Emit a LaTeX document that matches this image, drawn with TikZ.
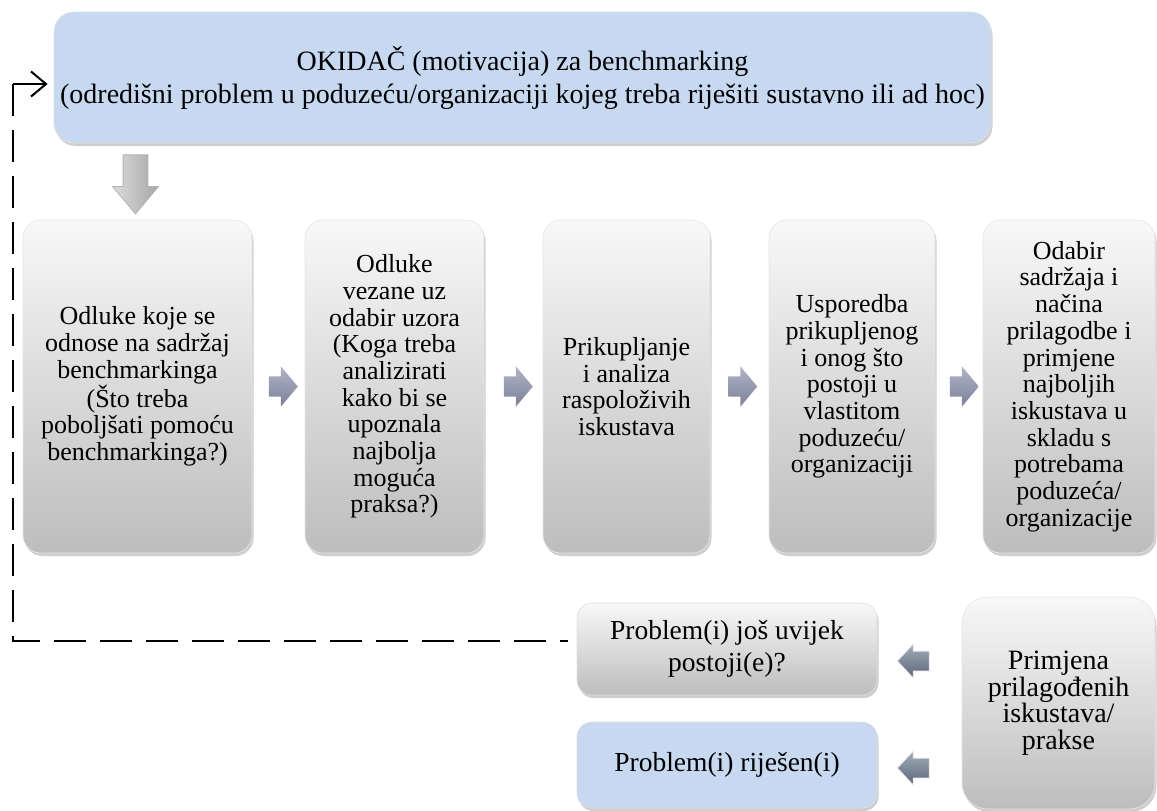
\documentclass[tikz,border=0pt]{standalone}
\usepackage{fontspec}
\setmainfont{Liberation Serif}
\usetikzlibrary{shapes.arrows,shadows,arrows.meta}
\definecolor{boxblue}{HTML}{C6D9F1}
\definecolor{gtop}{HTML}{F8F8F8}
\definecolor{gbot}{HTML}{BDBDBD}
\definecolor{atop}{HTML}{B0B5C8}
\definecolor{abot}{HTML}{7A8098}
\definecolor{btop}{HTML}{A3ADBB}
\definecolor{bbot}{HTML}{5A6677}
\definecolor{dtop}{HTML}{DCDCDC}
\definecolor{dbot}{HTML}{A6A6A6}
\begin{document}
\begin{tikzpicture}[x=1pt,y=1pt,
  shadowed/.style={drop shadow={shadow xshift=1.5pt,shadow yshift=-3pt,opacity=0.35,fill=black!55}},
  topbox/.style={rounded corners=20pt,fill=boxblue,draw=black!12,line width=0.8pt,shadowed,
    align=center,inner sep=0pt,font=\fontsize{28}{33}\selectfont},
  rowbox/.style={rounded corners=18pt,top color=gtop,bottom color=gbot,draw=black!10,line width=0.6pt,
    shadowed,align=center,inner sep=0pt,minimum height=333pt,font=\fontsize{26}{26.7}\selectfont},
  smallbox/.style={rounded corners=15pt,draw=black!12,line width=0.6pt,shadowed,align=center,
    inner sep=0pt,minimum width=300pt,font=\fontsize{27.5}{32}\selectfont},
  rarrow/.style={single arrow,single arrow tip angle=100,single arrow head extend=10pt,
    minimum height=29pt,inner xsep=0pt,inner ysep=10pt,top color=atop,bottom color=abot,draw=none},
  larrow/.style={single arrow,shape border rotate=180,single arrow tip angle=94,single arrow head extend=7pt,
    minimum height=32pt,inner xsep=0pt,inner ysep=9.5pt,top color=btop,bottom color=bbot,draw=black!8,line width=0.8pt},
  darrow/.style={single arrow,rotate=-90,single arrow tip angle=80,single arrow head extend=10.5pt,
    minimum height=59pt,inner xsep=0pt,inner ysep=12pt,left color=dtop,right color=dbot,draw=black!30,line width=0.8pt},
  fbline/.style={line width=2pt,dash pattern=on 32pt off 14pt}
]
\useasboundingbox (0,0) rectangle (1157,-811);

\node[topbox,minimum width=937pt,minimum height=131pt] (top) at (522.5,-77.5)
  {OKIDAČ (motivacija) za benchmarking\\(odredišni problem u poduzeću/organizaciji kojeg treba riješiti sustavno ili ad hoc)};

\node[darrow] (down) at (135.5,-177) {};

\node[rowbox,minimum width=229pt] (b1) at (137.5,-386.5)
  {Odluke koje se\\odnose na sadržaj\\benchmarkinga\\(Što treba\\poboljšati pomoću\\benchmarkinga?)};
\node[rowbox,minimum width=179pt] (b2) at (394.5,-386.5)
  {Odluke\\vezane uz\\odabir uzora\\(Koga treba\\analizirati\\kako bi se\\upoznala\\najbolja\\moguća\\praksa?)};
\node[rowbox,minimum width=167pt] (b3) at (626.5,-386.5)
  {Prikupljanje\\i analiza\\raspoloživih\\iskustava};
\node[rowbox,minimum width=166pt] (b4) at (852,-386.5)
  {Usporedba\\prikupljenog\\i onog što\\postoji u\\vlastitom\\poduzeću/\\organizaciji};
\node[rowbox,minimum width=172pt] (b5) at (1069,-386.5)
  {Odabir\\sadržaja i\\načina\\prilagodbe i\\primjene\\najboljih\\iskustava u\\skladu s\\potrebama\\poduzeća/\\organizacije};

\node[rarrow] (a1) at (279,-386.5) {};
\node[rarrow] (a2) at (514,-386.5) {};
\node[rarrow] (a3) at (738.5,-386.5) {};
\node[rarrow] (a4) at (960,-386.5) {};

\node[smallbox,minimum height=92pt,top color=gtop,bottom color=gbot] (p1) at (727,-649)
  {Problem(i) još uvijek\\postoji(e)?};
\node[smallbox,minimum height=86pt,fill=boxblue] (p2) at (727,-765)
  {Problem(i) riješen(i)};
\node[rowbox,rounded corners=26pt,minimum width=193pt,minimum height=212pt,
  font=\fontsize{28}{26.5}\selectfont] (ap) at (1058.5,-703)
  {Primjena\\prilagođenih\\iskustava/\\prakse};

\node[larrow] (l1) at (918,-661) {};
\node[larrow] (l2) at (918,-768) {};

\coordinate (fbstart) at (568,-641);
\coordinate (fbc1) at (13,-641);
\coordinate (fbc2) at (13,-84);
\draw[fbline] (fbc2) -- (fbc1) -- (fbstart);
\draw[line width=2pt,-{Straight Barb[length=15pt,width=25pt,line width=2pt]}]
  (fbc2) -- ([xshift=-6pt]top.west |- fbc2);
\end{tikzpicture}
\end{document}
